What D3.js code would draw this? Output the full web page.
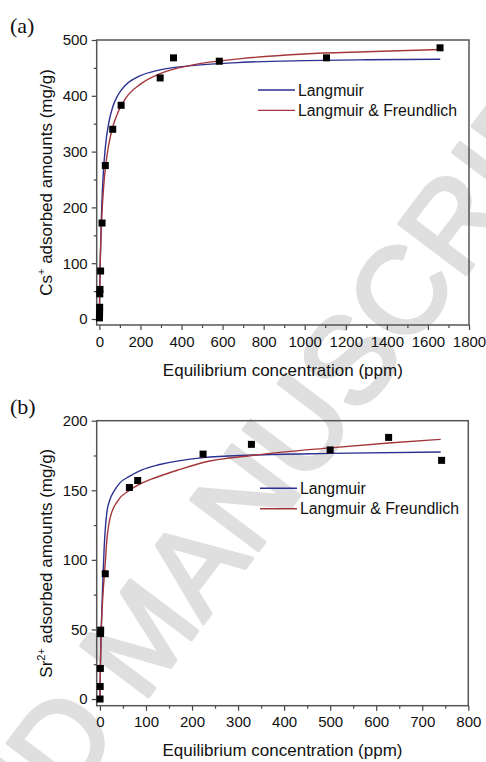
<!DOCTYPE html>
<html>
<head>
<meta charset="utf-8">
<script src="https://cdn.jsdelivr.net/npm/d3@7"></script>
<style>
  body { margin: 0; background: #fff; }
  svg { display: block; }
  .tick text { font-family: "Liberation Sans", Arial, sans-serif; font-size: 15px; fill: #111; }
  .tick line { stroke: #444; stroke-width: 1.2; }
</style>
</head>
<body>
<div id="chart"></div>
<script>
// ---- data ----
// (a) Cs+ isotherm
const csConc = [0.5, 1, 1.5, 2, 3, 6, 13, 29, 65, 106, 296, 361, 584, 1106, 1659];
const csAds  = [2, 11, 21, 45, 53, 86, 172, 275, 340, 383, 432, 468, 462, 468, 486];
const csLangC = [0, 2, 5, 10, 15, 20, 30, 45, 65, 90, 127, 200, 290, 450, 700, 1000, 1300, 1660];
const csLangQ = [0, 54, 115, 185, 232, 266, 311, 350, 380, 401, 419, 436, 446, 454, 460, 463, 464.5, 465.5];
const csLfC = [0, 2, 5, 10, 15, 20, 30, 45, 62, 90, 127, 200, 290, 450, 700, 1000, 1300, 1660];
const csLfQ = [0, 62, 113, 168, 205, 233, 273, 311, 340, 370, 395, 421, 439, 455, 467, 475, 479, 483];

// (b) Sr2+ isotherm
const srConc = [0.3, 0.6, 1, 1.3, 1.6, 11.6, 64, 82, 224, 329, 500, 627, 742];
const srAds  = [0, 9, 22, 47, 49.5, 90, 152, 157, 176, 183, 179, 188, 171.5];
const srLangC = [0, 1, 2, 4, 6, 9, 11.6, 15, 22, 30, 44, 64, 90, 130, 224, 330, 500, 740];
const srLangQ = [0, 20, 38, 62, 82, 107, 122, 134, 143.5, 149, 155.5, 160, 164.5, 168.5, 173.5, 175.3, 176.5, 177.5];
const srLfC = [0, 1, 2.5, 5, 8, 11.6, 15, 22, 40, 62, 90, 120, 174, 224, 330, 500, 627, 740];
const srLfQ = [0, 24, 46, 66, 82, 98, 114, 130, 143, 149.5, 155, 159, 165, 170, 175, 180.5, 184, 186.6];

// ticks
const csXTicks = [0, 200, 400, 600, 800, 1000, 1200, 1400, 1600, 1800];
const csXMinor = [100, 300, 500, 700, 900, 1100, 1300, 1500, 1700];
const csYTicks = [0, 100, 200, 300, 400, 500];
const csYMinor = [50, 150, 250, 350, 450];
const srXTicks = [0, 100, 200, 300, 400, 500, 600, 700, 800];
const srXMinor = [50, 150, 250, 350, 450, 550, 650, 750];
const srYTicks = [0, 50, 100, 150, 200];
const srYMinor = [25, 75, 125, 175];

const legendNames = ["Langmuir", "Langmuir & Freundlich"];
const blue = "#2b3190";
const red = "#a3363a";
const sans = '"Liberation Sans", Arial, sans-serif';

const svg = d3.select("#chart").append("svg")
  .attr("width", 486)
  .attr("height", 762);

// watermark behind everything
svg.append("text")
  .attr("transform", "translate(-278,1262) rotate(-53)")
  .attr("font-family", sans)
  .attr("font-size", 122)
  .attr("fill", "#dfdfdf")
  .attr("stroke", "#dfdfdf")
  .attr("stroke-width", 4)
  .attr("stroke-linejoin", "round")
  .text("ACCEPTED MANUSCRIPT");

const drawPanel = (p) => {
  const x = d3.scaleLinear().domain(p.xDomain).range([p.left, p.right]);
  const y = d3.scaleLinear().domain(p.yDomain).range([p.bottom, p.top]);
  const g = svg.append("g");

  // minor ticks
  g.append("g")
    .attr("transform", `translate(0,${p.bottom})`)
    .call(d3.axisBottom(x).tickValues(p.xMinor).tickSize(3).tickFormat(""))
    .call(s => s.select(".domain").remove());
  g.append("g")
    .attr("transform", `translate(${p.left},0)`)
    .call(d3.axisLeft(y).tickValues(p.yMinor).tickSize(3).tickFormat(""))
    .call(s => s.select(".domain").remove());

  // major ticks
  g.append("g")
    .attr("transform", `translate(0,${p.bottom})`)
    .call(d3.axisBottom(x).tickValues(p.xTicks).tickSize(5).tickPadding(6).tickFormat(d3.format("d")))
    .call(s => s.select(".domain").remove());
  g.append("g")
    .attr("transform", `translate(${p.left},0)`)
    .call(d3.axisLeft(y).tickValues(p.yTicks).tickSize(5).tickPadding(4).tickFormat(d3.format("d")))
    .call(s => s.select(".domain").remove());

  g.append("rect")
    .attr("x", p.left).attr("y", p.top)
    .attr("width", p.right - p.left).attr("height", p.bottom - p.top)
    .attr("fill", "none").attr("stroke", "#555").attr("stroke-width", 1.5);

  const line = d3.line()
    .x(d => x(d[0]))
    .y(d => y(d[1]))
    .curve(d3.curveMonotoneX);

  g.append("path")
    .attr("d", line(p.langC.map((c, i) => [c, p.langQ[i]])))
    .attr("fill", "none").attr("stroke", blue).attr("stroke-width", 1.4);
  g.append("path")
    .attr("d", line(p.lfC.map((c, i) => [c, p.lfQ[i]])))
    .attr("fill", "none").attr("stroke", red).attr("stroke-width", 1.4);

  g.selectAll(".pt")
    .data(p.conc.map((c, i) => [c, p.ads[i]]))
    .enter().append("rect")
    .attr("class", "pt")
    .attr("x", d => x(d[0]) - 3.5)
    .attr("y", d => y(d[1]) - 3.5)
    .attr("width", 7).attr("height", 7)
    .attr("fill", "#000");

  // legend
  [blue, red].forEach((col, i) => {
    const ly = p.legendY + i * 20.4;
    g.append("line")
      .attr("x1", p.legendX).attr("x2", p.legendX + 37)
      .attr("y1", ly).attr("y2", ly)
      .attr("stroke", col).attr("stroke-width", 1.4);
    g.append("text")
      .attr("x", p.legendX + 40).attr("y", ly + 5.5)
      .attr("font-family", sans).attr("font-size", 15.8).attr("fill", "#111")
      .text(legendNames[i]);
  });

  // axis titles
  g.append("text")
    .attr("x", (p.left + p.right) / 2).attr("y", p.bottom + 50.7)
    .attr("text-anchor", "middle")
    .attr("font-family", sans).attr("font-size", 17).attr("fill", "#111")
    .text("Equilibrium concentration (ppm)");

  const yt = g.append("text")
    .attr("transform", `translate(52,${(p.top + p.bottom) / 2}) rotate(-90)`)
    .attr("text-anchor", "middle")
    .attr("font-family", sans).attr("font-size", 17).attr("fill", "#111");
  yt.append("tspan").text(p.ion);
  yt.append("tspan").attr("dy", -7).attr("font-size", 11).text(p.charge);
  yt.append("tspan").attr("dy", 7).text(" adsorbed amounts (mg/g)");

  g.append("text")
    .attr("x", 10).attr("y", p.top - 7)
    .attr("font-family", '"Liberation Serif", "Times New Roman", serif')
    .attr("font-size", 22).attr("fill", "#111")
    .text(p.label);
};

drawPanel({
  label: "(a)", ion: "Cs", charge: "+",
  left: 96.7, right: 469, top: 40, bottom: 325,
  xDomain: [-13, 1800], yDomain: [-10.75, 500],
  xTicks: csXTicks, xMinor: csXMinor, yTicks: csYTicks, yMinor: csYMinor,
  conc: csConc, ads: csAds,
  langC: csLangC, langQ: csLangQ, lfC: csLfC, lfQ: csLfQ,
  legendX: 258, legendY: 90
});

drawPanel({
  label: "(b)", ion: "Sr", charge: "2+",
  left: 96.7, right: 468.3, top: 420.7, bottom: 705.7,
  xDomain: [-7, 800], yDomain: [-4.8, 200],
  xTicks: srXTicks, xMinor: srXMinor, yTicks: srYTicks, yMinor: srYMinor,
  conc: srConc, ads: srAds,
  langC: srLangC, langQ: srLangQ, lfC: srLfC, lfQ: srLfQ,
  legendX: 260, legendY: 488.3
});
</script>
</body>
</html>
